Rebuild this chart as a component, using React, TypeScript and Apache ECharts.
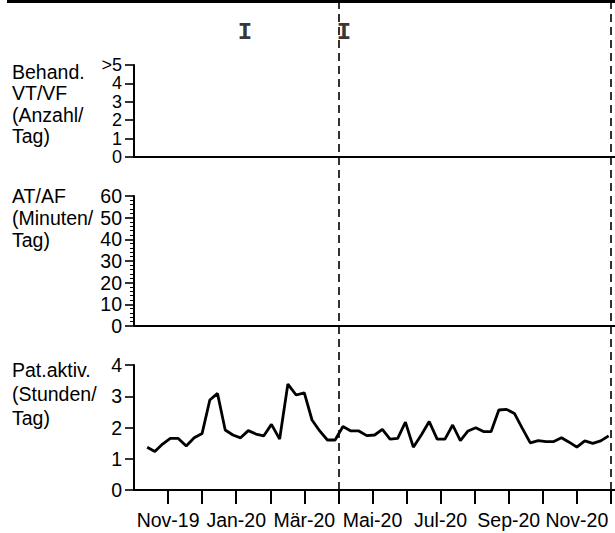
import React, { useEffect, useRef } from "react";
import * as echarts from "echarts";

// Weekly patient activity (hours/day), first value on 2019-10-13, one per week
const startDate = "2019-10-13";
const activityValues = [
  1.37, 1.23, 1.47, 1.65, 1.65, 1.41, 1.67, 1.81, 2.88, 3.09,
  1.92, 1.76, 1.67, 1.9, 1.79, 1.73, 2.1, 1.63, 3.39, 3.04,
  3.11, 2.24, 1.89, 1.6, 1.6, 2.03, 1.89, 1.89, 1.74, 1.76,
  1.94, 1.63, 1.65, 2.17, 1.37, 1.76, 2.19, 1.63, 1.63, 2.08,
  1.58, 1.89, 1.99, 1.87, 1.87, 2.56, 2.58, 2.45, 1.97, 1.51,
  1.58, 1.55, 1.55, 1.67, 1.53, 1.37, 1.57, 1.49, 1.57, 1.73,
];

// Month ticks (index from Oct-19 = 0)
const tickMonths = [1, 2, 3, 4, 5, 6, 7, 8, 9, 10, 11, 12, 13, 14];
const labelMonths = [1, 3, 5, 7, 9, 11, 13];
const monthLabels = ["Nov-19", "Jan-20", "Mär-20", "Mai-20", "Jul-20", "Sep-20", "Nov-20"];

// Event markers ("I") and dashed reference lines
const markerDates = ["2020-01-09", "2020-04-06"];
const dashedDates = ["2020-04-01", "2020-12-01"];

// Axis tick values
const vtTicksMax = 5;
const afTicksMax = 60;
const actTicksMax = 4;

const titleVT = "Behand.\nVT/VF\n(Anzahl/\nTag)";
const titleAF = "AT/AF\n(Minuten/\nTag)";
const titleAct = "Pat.aktiv.\n(Stunden/\nTag)";

function monthIndex(dateStr: string): number {
  const d = new Date(dateStr + "T00:00:00Z");
  const y = d.getUTCFullYear();
  const m = d.getUTCMonth();
  const day = d.getUTCDate();
  const dim = new Date(Date.UTC(y, m + 1, 0)).getUTCDate();
  return (y - 2019) * 12 + (m - 9) + (day - 1) / dim;
}

function weeklyDate(i: number): string {
  const d = new Date(startDate + "T00:00:00Z");
  d.setUTCDate(d.getUTCDate() + 7 * i);
  return d.toISOString().slice(0, 10);
}

const FONT = "Liberation Sans";
const FS = 19.5;
const X_MAX = 14.12;

export default function App() {
  const ref = useRef<HTMLDivElement>(null);
  useEffect(() => {
    if (!ref.current) return;
    const chart = echarts.init(ref.current, null, { renderer: "svg" });

    const lineData = activityValues.map((v, i) => [monthIndex(weeklyDate(i)), v]);
    const markerData = markerDates.map((d) => [monthIndex(d), 0.5]);

    const baseX = (gridIndex: number) => ({
      type: "value" as const,
      gridIndex,
      min: 0,
      max: X_MAX,
      splitLine: { show: false },
      axisLine: { show: true, onZero: false, lineStyle: { color: "#000", width: 2 } },
      axisTick: { show: false },
      axisLabel: { show: false },
    });

    const baseY = (gridIndex: number, max: number, interval: number) => ({
      type: "value" as const,
      gridIndex,
      min: 0,
      max,
      interval,
      splitLine: { show: false },
      axisLine: { show: true, lineStyle: { color: "#000", width: 2 } },
      axisTick: { show: true, length: 9, lineStyle: { color: "#000", width: 1.6 } },
      axisLabel: {
        show: true,
        margin: 12,
        color: "#000",
        fontFamily: FONT,
        fontSize: FS,
        showMinLabel: true,
        showMaxLabel: true,
        hideOverlap: false,
      },
    });

    const option: any = {
      animation: false,
      backgroundColor: "#fff",
      grid: [
        { left: 134, right: 0, top: 65, height: 92 },
        { left: 134, right: 0, top: 196, height: 130 },
        { left: 134, right: 0, top: 365, height: 125 },
        { left: 134, right: 0, top: 3, height: 487 },
        { left: 134, right: 0, top: 20, height: 24 },
      ],
      xAxis: [
        baseX(0),
        baseX(1),
        {
          ...baseX(2),
          axisTick: {
            show: true,
            length: 14,
            customValues: tickMonths,
            lineStyle: { color: "#000", width: 2 },
          },
          axisLabel: {
            show: true,
            customValues: labelMonths,
            margin: 20,
            color: "#000",
            fontFamily: FONT,
            fontSize: FS,
            formatter: (v: number) => {
              const idx = labelMonths.indexOf(Math.round(v));
              return idx >= 0 ? monthLabels[idx] : "";
            },
          },
        },
        { ...baseX(3), show: false },
        { ...baseX(4), show: false },
      ],
      yAxis: [
        {
          ...baseY(0, vtTicksMax, 1),
          axisLabel: {
            show: true,
            margin: 12,
            color: "#000",
            fontFamily: FONT,
            fontSize: 18,
            lineHeight: 17,
            showMinLabel: true,
            showMaxLabel: true,
            hideOverlap: false,
            formatter: (v: number) => (v === vtTicksMax ? ">5" : String(v)),
          },
        },
        {
          ...baseY(1, afTicksMax, 10),
          minorTick: { show: true, splitNumber: 5, length: 4, lineStyle: { color: "#000", width: 1 } },
        },
        baseY(2, actTicksMax, 1),
        { type: "value", gridIndex: 3, min: 0, max: 1, show: false },
        { type: "value", gridIndex: 4, min: 0, max: 1, show: false },
      ],
      series: [
        { type: "line", xAxisIndex: 0, yAxisIndex: 0, data: [], silent: true },
        { type: "line", xAxisIndex: 1, yAxisIndex: 1, data: [], silent: true },
        {
          type: "line",
          xAxisIndex: 2,
          yAxisIndex: 2,
          data: lineData,
          showSymbol: false,
          symbol: "none",
          lineStyle: { color: "#000", width: 2.8 },
          silent: true,
        },
        {
          type: "line",
          xAxisIndex: 3,
          yAxisIndex: 3,
          data: [],
          silent: true,
          markLine: {
            silent: true,
            symbol: ["none", "none"],
            label: { show: false },
            lineStyle: { color: "#000", width: 1.6, type: [8, 5] },
            data: dashedDates.map((d) => ({ xAxis: monthIndex(d) })),
          },
        },
        {
          type: "scatter",
          xAxisIndex: 4,
          yAxisIndex: 4,
          data: markerData,
          symbolSize: 1,
          itemStyle: { color: "rgba(0,0,0,0)" },
          silent: true,
          label: {
            show: true,
            position: "inside",
            formatter: "I",
            color: "#000",
            fontFamily: "Liberation Mono",
            fontWeight: "bold",
            fontSize: 24,
          },
        },
      ],
      graphic: [
        { type: "rect", shape: { x: 7, y: 0, width: 608, height: 3 }, style: { fill: "#000" }, silent: true },
        {
          type: "text",
          x: 12,
          y: 61,
          style: { text: titleVT, fontFamily: FONT, fontSize: FS, lineHeight: 21.5, fill: "#000", verticalAlign: "top" },
        },
        {
          type: "text",
          x: 12,
          y: 185,
          style: { text: titleAF, fontFamily: FONT, fontSize: FS, lineHeight: 22, fill: "#000", verticalAlign: "top" },
        },
        {
          type: "text",
          x: 12,
          y: 358,
          style: { text: titleAct, fontFamily: FONT, fontSize: FS, lineHeight: 24, fill: "#000", verticalAlign: "top" },
        },
      ],
    };

    chart.setOption(option);
    return () => chart.dispose();
  }, []);

  return (
    <div
      ref={ref}
      style={{ position: "fixed", left: 0, top: 0, width: 615, height: 533, background: "#fff" }}
    />
  );
}
